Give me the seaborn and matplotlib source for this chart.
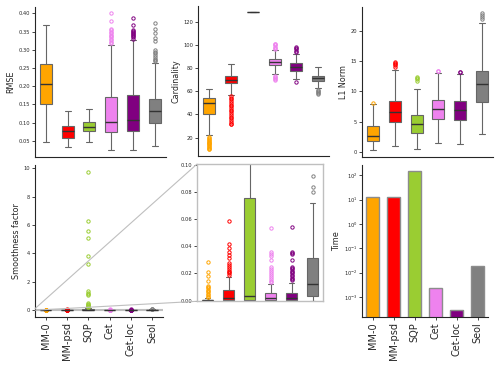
import numpy as np
import pandas as pd
import matplotlib.pyplot as plt
import seaborn as sns
from matplotlib.ticker import NullLocator
from mpl_toolkits.axes_grid1.inset_locator import mark_inset

methods = ["MM-0", "MM-psd", "SQP", "Cet", "Cet-loc", "Seol"]
colors = ["orange", "red", "yellowgreen", "violet", "purple", "gray"]

# box summaries: whisker low, q1, median, q3, whisker high
rmse_box = [[0.048, 0.150, 0.206, 0.261, 0.367],
            [0.033, 0.057, 0.076, 0.091, 0.133],
            [0.046, 0.076, 0.089, 0.102, 0.137],
            [0.024, 0.075, 0.102, 0.171, 0.313],
            [0.026, 0.076, 0.106, 0.177, 0.326],
            [0.037, 0.100, 0.131, 0.166, 0.264]]
rmse_fliers = [[], [], [],
               [0.318, 0.322, 0.326, 0.33, 0.334, 0.338, 0.342, 0.346, 0.35, 0.354, 0.358, 0.38, 0.40],
               [0.331, 0.334, 0.337, 0.34, 0.343, 0.346, 0.349, 0.352, 0.355, 0.368, 0.388],
               [0.268, 0.272, 0.276, 0.28, 0.285, 0.29, 0.295, 0.30, 0.323, 0.332, 0.346, 0.358, 0.373]]

card_box = [[22, 40.5, 50, 53.8, 62],
            [57, 66.8, 70, 73.5, 83.3],
            [128, 128, 128, 128, 128],
            [74.8, 82.4, 85.3, 87.6, 95.3],
            [70.9, 77.8, 81, 84.2, 92],
            [62.5, 68.8, 71.2, 73.5, 80.5]]
card_fliers = [[20.3, 19.5, 18.7, 18, 17.2, 16.5, 15.7, 15, 14.2, 13.5, 12.7, 12, 11.3, 10.5, 10],
               [56, 54.5, 53, 51.5, 50, 48.5, 47, 45.5, 44, 42.5, 41, 39.5, 38, 36.5, 35, 33.5, 32, 31.5],
               [],
               [96.5, 97.5, 98.5, 99.5, 100.5, 101, 73.5, 72.5, 71.5, 70.5, 70],
               [94, 95, 96, 97, 98, 67.8],
               [61, 60, 59, 58, 57.5]]

l1_box = [[0.27, 1.85, 2.6, 4.3, 7.9],
          [0.98, 4.9, 6.65, 8.45, 13.5],
          [0.44, 3.05, 4.63, 6.16, 10.35],
          [1.42, 5.4, 7.08, 8.5, 13.0],
          [1.25, 5.29, 6.98, 8.34, 12.85],
          [3.0, 8.2, 11.23, 13.46, 21.3]]
l1_fliers = [[8.1],
             [14.1, 14.3, 14.5, 14.7, 14.8],
             [11.8, 12.0, 12.2, 12.4],
             [13.3, 13.35],
             [13.2, 13.25],
             [22.0, 22.3, 22.6, 22.9]]

smooth_box = [[0, 0, 0.0003, 0.0007, 0.0017],
              [0, 0.0002, 0.0022, 0.0076, 0.0175],
              [0, 0.0001, 0.0034, 0.0754, 0.18],
              [0, 0.0007, 0.0022, 0.0056, 0.0125],
              [0, 0.0005, 0.0022, 0.0056, 0.0128],
              [0, 0.0037, 0.012, 0.0317, 0.0717]]
smooth_fliers = [[0.0025, 0.003, 0.004, 0.005, 0.0064, 0.007, 0.008, 0.009, 0.010, 0.011, 0.0147, 0.018, 0.021, 0.0285],
                 [0.019, 0.020, 0.021, 0.022, 0.0235, 0.025, 0.0265, 0.028, 0.031, 0.0335, 0.036, 0.039, 0.042, 0.0586],
                 [0.2, 0.25, 0.3, 0.35, 0.4, 0.45, 0.5, 1.08, 1.16, 1.24, 1.36, 3.26, 3.82, 5.08, 5.6, 6.28, 9.74],
                 [0.0138, 0.0148, 0.0158, 0.0175, 0.019, 0.0205, 0.022, 0.0235, 0.025, 0.030, 0.033, 0.0345, 0.036, 0.0534],
                 [0.015, 0.016, 0.017, 0.018, 0.019, 0.020, 0.021, 0.022, 0.023, 0.024, 0.025, 0.030, 0.034, 0.035, 0.036, 0.0539],
                 [0.0803, 0.0835, 0.0919]]

time_vals = [12.3, 12.3, 145, 0.0023, 0.00028, 0.018]


def expand(box, fl, n=200):
    # repeat the read quartiles so the computed box matches the picture
    lo, q1, med, q3, hi = box
    return [lo] + [q1] * n + [med] * n + [q3] * n + [hi] + list(fl)


def long_df(boxes, fliers):
    rows = []
    for m, b, f in zip(methods, boxes, fliers):
        for v in expand(b, f):
            rows.append((m, v))
    return pd.DataFrame(rows, columns=["method", "value"])


def draw_box(ax, df):
    sns.boxplot(data=df, x="method", y="value", hue="method", palette=colors,
                saturation=1, width=0.55, linecolor="0.4", linewidth=0.8, fliersize=2.4,
                flierprops=dict(marker="o", markerfacecolor="none", markeredgewidth=0.7),
                medianprops=dict(color="0.2", linewidth=1.0),
                legend=False, ax=ax)
    for cont, c in zip(ax.containers, colors):
        for fl in cont.fliers:
            fl.set_markeredgecolor(c)
    ax.set_xlabel("")


sns.set_style("ticks")
plt.rcParams.update({"axes.linewidth": 0.8, "xtick.major.width": 0.6, "ytick.major.width": 0.6,
                     "xtick.major.size": 2, "ytick.major.size": 2,
                     "xtick.major.pad": 1.5, "ytick.major.pad": 1.5})

fig = plt.figure(figsize=(4.98, 3.67), dpi=100)
ax1 = fig.add_axes([0.070, 0.572, 0.263, 0.41])
ax2 = fig.add_axes([0.398, 0.575, 0.263, 0.41])
ax3 = fig.add_axes([0.727, 0.572, 0.263, 0.41])
ax4 = fig.add_axes([0.070, 0.136, 0.257, 0.414])
axins = fig.add_axes([0.3956, 0.179, 0.253, 0.374])
ax5 = fig.add_axes([0.727, 0.136, 0.253, 0.414])

tick_fs = 3.7
lab_fs = 5.8

# top row
for ax, boxes, fliers, name, ticks in [
        (ax1, rmse_box, rmse_fliers, "RMSE", np.arange(0.05, 0.41, 0.05)),
        (ax2, card_box, card_fliers, "Cardinality", [20, 40, 60, 80, 100, 120]),
        (ax3, l1_box, l1_fliers, "L1 Norm", [0, 5, 10, 15, 20])]:
    draw_box(ax, long_df(boxes, fliers))
    ax.set_yticks(ticks)
    ax.set_ylabel(name, fontsize=lab_fs, labelpad=2)
    ax.tick_params(axis="x", bottom=False, labelbottom=False)
    ax.tick_params(axis="y", labelsize=tick_fs)
    sns.despine(ax=ax)

# smoothness with zoomed inset
sm_df = long_df(smooth_box, smooth_fliers)
draw_box(ax4, sm_df)
ax4.set_yticks([0, 2, 4, 6, 8, 10])
ax4.set_ylabel("Smoothness factor", fontsize=lab_fs, labelpad=2)
ax4.tick_params(axis="y", labelsize=tick_fs)
ax4.tick_params(axis="x", labelsize=7, rotation=90)
sns.despine(ax=ax4)

draw_box(axins, sm_df)
axins.set_xlim(-0.5, 5.5)
axins.set_ylim(-0.0005, 0.1005)
axins.set_yticks([0, 0.02, 0.04, 0.06, 0.08, 0.10])
axins.set_ylabel("")
axins.tick_params(axis="x", bottom=False, labelbottom=False)
axins.tick_params(axis="y", labelsize=tick_fs)
for sp in axins.spines.values():
    sp.set_color("0.75")
    sp.set_linewidth(1.0)
mark_inset(ax4, axins, loc1=2, loc2=3, ec="0.75", lw=0.8)

# time bars
sns.barplot(x=methods, y=time_vals, hue=methods, palette=colors, saturation=1,
            width=0.65, edgecolor="0.55", linewidth=1, legend=False, ax=ax5)
ax5.set_yscale("log")
ax5.set_ylim(1.5e-4, 260)
ax5.yaxis.set_minor_locator(NullLocator())
ax5.set_ylabel("Time", fontsize=lab_fs, labelpad=2)
ax5.tick_params(axis="y", labelsize=tick_fs)
ax5.tick_params(axis="x", labelsize=7, rotation=90)
sns.despine(ax=ax5)

fig.savefig("out.png", dpi=100)
